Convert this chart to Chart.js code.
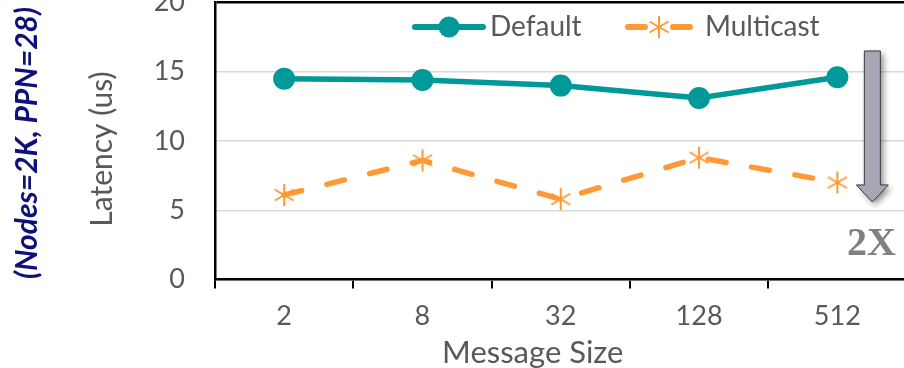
<!DOCTYPE html>
<html>
<head>
<meta charset="utf-8">
<script src="https://cdn.jsdelivr.net/npm/chart.js@4/dist/chart.umd.min.js"></script>
<style>
  html, body { margin: 0; padding: 0; background: #fff; overflow: hidden; width: 904px; height: 368px; }
  #wrap { position: absolute; left: 0; top: -15px; width: 924px; height: 387px; }
</style>
</head>
<body>
<div id="wrap"><canvas id="chart" width="924" height="387"></canvas></div>
<script>
// Message sizes on the x axis
const categories = ['2', '8', '32', '128', '512'];
// Latency in microseconds for each scheme
const defaultLatency = [14.5, 14.4, 14.0, 13.1, 14.6];
const multicastLatency = [6.1, 8.6, 5.8, 8.8, 7.0];
// Y axis tick values
const yTicks = [0, 5, 10, 15, 20];

const TEAL = '#009999';
const ORANGE = '#FF9933';
const TEXT = '#595959';
const FONT = 'Lato, "Open Sans", sans-serif';

// six-armed asterisk marker
function makeAsterisk(size, color, width) {
  const c = document.createElement('canvas');
  c.width = size; c.height = size;
  const g = c.getContext('2d');
  g.strokeStyle = color; g.lineWidth = width; g.lineCap = 'butt';
  const r = size / 2 - 1, cx = size / 2, cy = size / 2;
  [90, 30, 150].forEach(a => {
    const t = a * Math.PI / 180;
    g.beginPath();
    g.moveTo(cx - r * Math.cos(t), cy - r * Math.sin(t));
    g.lineTo(cx + r * Math.cos(t), cy + r * Math.sin(t));
    g.stroke();
  });
  return c;
}
const asterisk = makeAsterisk(24, ORANGE, 2);

// Legend, axis titles, and the 2X arrow
const decorations = {
  id: 'decorations',
  afterDraw(chart) {
    const { ctx, chartArea, scales } = chart;
    const x = scales.x, y = scales.y;
    ctx.save();

    // rotated titles
    const midY = (chartArea.top + chartArea.bottom) / 2;
    ctx.textAlign = 'center';
    ctx.textBaseline = 'middle';
    ctx.save();
    ctx.translate(27, midY + 2);
    ctx.rotate(-Math.PI / 2);
    ctx.fillStyle = '#10107A';
    ctx.font = 'italic bold 30px ' + FONT;
    ctx.fillText('(Nodes=2K, PPN=28)', 0, 0);
    ctx.restore();
    ctx.save();
    ctx.translate(102, midY + 8);
    ctx.rotate(-Math.PI / 2);
    ctx.fillStyle = TEXT;
    ctx.font = '30px ' + FONT;
    ctx.fillText('Latency (us)', 0, 0);
    ctx.restore();

    // x axis title
    ctx.fillStyle = TEXT;
    ctx.font = '31px ' + FONT;
    ctx.fillText('Message Size', x.getPixelForValue(2) - 28, chartArea.bottom + 73.5);

    // legend
    const ly = chartArea.top + 24.5;
    ctx.font = '28px ' + FONT;
    ctx.textAlign = 'left';
    ctx.lineWidth = 6;
    ctx.lineCap = 'round';
    ctx.strokeStyle = TEAL;
    ctx.beginPath(); ctx.moveTo(415, ly); ctx.lineTo(483, ly); ctx.stroke();
    ctx.fillStyle = TEAL;
    ctx.beginPath(); ctx.arc(449, ly, 10.5, 0, Math.PI * 2); ctx.fill();
    ctx.fillStyle = TEXT;
    ctx.fillText('Default', 490, ly);
    ctx.strokeStyle = ORANGE;
    ctx.beginPath(); ctx.moveTo(628, ly); ctx.lineTo(645, ly); ctx.stroke();
    ctx.beginPath(); ctx.moveTo(673, ly); ctx.lineTo(690, ly); ctx.stroke();
    ctx.drawImage(asterisk, 659 - 12, ly - 12);
    ctx.fillStyle = TEXT;
    ctx.fillText('Multicast', 705, ly);

    // arrow showing the 2X reduction
    const ax = x.getPixelForValue(4) + 35;
    const yTop = y.getPixelForValue(16.5);
    const yTip = y.getPixelForValue(5.6);
    const headLen = 17, headHalf = 16, shaftHalf = 8;
    ctx.save();
    ctx.shadowColor = 'rgba(0,0,0,0.45)';
    ctx.shadowBlur = 6;
    ctx.shadowOffsetX = 3;
    ctx.shadowOffsetY = 3;
    ctx.beginPath();
    ctx.moveTo(ax - shaftHalf, yTop);
    ctx.lineTo(ax + shaftHalf, yTop);
    ctx.lineTo(ax + shaftHalf, yTip - headLen);
    ctx.lineTo(ax + headHalf, yTip - headLen);
    ctx.lineTo(ax, yTip);
    ctx.lineTo(ax - headHalf, yTip - headLen);
    ctx.lineTo(ax - shaftHalf, yTip - headLen);
    ctx.closePath();
    ctx.fillStyle = '#A6A6B6';
    ctx.fill();
    ctx.restore();
    ctx.lineWidth = 1;
    ctx.lineCap = 'butt';
    ctx.strokeStyle = '#3A3A3A';
    ctx.stroke();

    ctx.font = 'bold 40px "Liberation Serif", serif';
    ctx.fillStyle = '#808080';
    ctx.textAlign = 'center';
    ctx.textBaseline = 'alphabetic';
    ctx.fillText('2X', ax - 1, y.getPixelForValue(1.76));
    ctx.restore();
  }
};

new Chart(document.getElementById('chart'), {
  type: 'line',
  data: {
    labels: categories,
    datasets: [
      {
        label: 'Default',
        data: defaultLatency,
        borderColor: TEAL,
        backgroundColor: TEAL,
        borderWidth: 5.5,
        pointStyle: 'circle',
        pointRadius: 11,
        pointHoverRadius: 11,
        pointBorderWidth: 0,
        tension: 0
      },
      {
        label: 'Multicast',
        data: multicastLatency,
        borderColor: ORANGE,
        backgroundColor: ORANGE,
        borderWidth: 5.5,
        borderDash: [18, 26],
        borderCapStyle: 'round',
        pointStyle: asterisk,
        pointRadius: 12,
        tension: 0
      }
    ]
  },
  options: {
    responsive: false,
    animation: false,
    devicePixelRatio: 1,
    layout: { padding: { left: 154, right: 0, top: 0, bottom: 0 } },
    plugins: {
      legend: { display: false },
      tooltip: { enabled: false }
    },
    scales: {
      x: {
        offset: true,
        afterFit: s => { s.height = 92.5; s.paddingLeft = 0; s.paddingRight = 0; },
        grid: {
          offset: true,
          drawOnChartArea: false,
          drawTicks: true,
          tickLength: 9,
          color: '#000',
          lineWidth: 2
        },
        border: { color: '#000', width: 2.5 },
        ticks: { color: TEXT, font: { family: FONT, size: 27 }, padding: 12 },
        title: { display: false }
      },
      y: {
        min: 0,
        max: 20,
        afterBuildTicks: s => { s.ticks = yTicks.map(v => ({ value: v })); },
        afterFit: s => { s.width = 61; s.paddingTop = 16.5; s.paddingBottom = 0; },
        grid: {
          drawTicks: false,
          color: c => (c.tick && c.tick.value === 20 ? '#000' : '#D9D9D9'),
          lineWidth: c => (c.tick && c.tick.value === 20 ? 2.5 : 1.5)
        },
        border: { color: '#000', width: 2.5 },
        ticks: { color: TEXT, font: { family: FONT, size: 27 }, padding: 30 }
      }
    }
  },
  plugins: [decorations]
});
</script>
</body>
</html>
